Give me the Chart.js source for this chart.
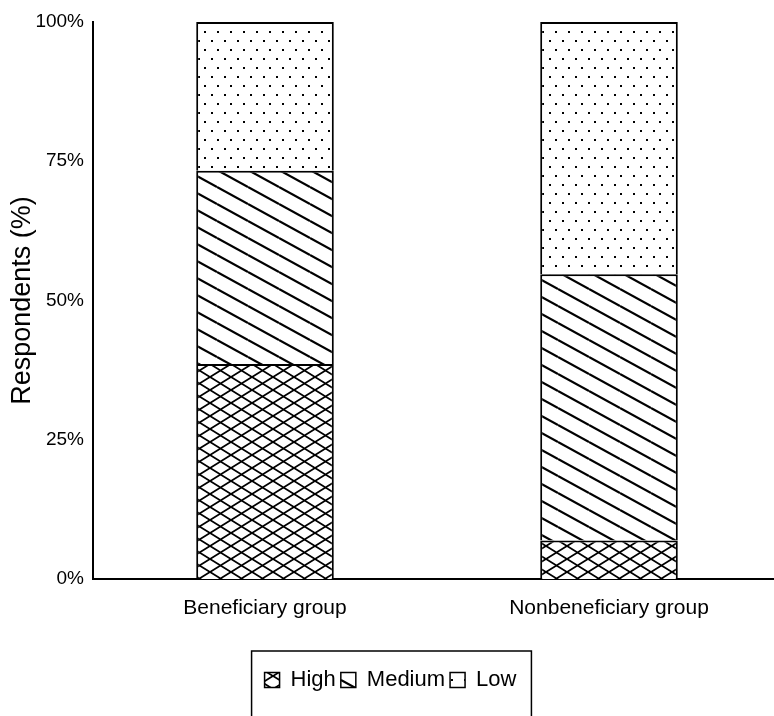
<!DOCTYPE html>
<html>
<head>
<meta charset="utf-8">
<script src="https://cdn.jsdelivr.net/npm/chart.js@4"></script>
<style>
  html, body { margin: 0; padding: 0; background: #fff; overflow: hidden; }
  #wrap { position: relative; width: 784px; height: 716px; }
</style>
</head>
<body>
<div id="wrap"><canvas id="chart" width="784" height="716"></canvas></div>
<script>
const groups = ["Beneficiary group", "Nonbeneficiary group"];
const seriesNames = ["High", "Medium", "Low"];
const highValues = [38.6, 6.9];
const mediumValues = [34.7, 47.8];
const lowValues = [26.7, 45.3];
const yTicks = [0, 25, 50, 75, 100];

const FONT = "'Liberation Sans', Arial, sans-serif";

// ===== Hatch patterns =====
function makeTile(w, h, draw) {
  const c = document.createElement("canvas");
  c.width = w;
  c.height = h;
  const g = c.getContext("2d");
  g.fillStyle = "#fff";
  g.fillRect(0, 0, w, h);
  g.strokeStyle = "#000";
  g.fillStyle = "#000";
  draw(g, w, h);
  return document.createElement("canvas").getContext("2d").createPattern(c, "repeat");
}

function crossHatch() {
  return makeTile(21, 13, (g, w, h) => {
    g.lineWidth = 1.8;
    for (let k = -1; k <= 1; k++) {
      g.beginPath();
      g.moveTo(0, k * h);
      g.lineTo(w, k * h + h);
      g.moveTo(0, k * h + h);
      g.lineTo(w, k * h);
      g.stroke();
    }
  });
}

function diagHatch() {
  return makeTile(31, 17, (g, w, h) => {
    g.lineWidth = 2.2;
    for (let k = -1; k <= 1; k++) {
      g.beginPath();
      g.moveTo(0, k * h);
      g.lineTo(w, k * h + h);
      g.stroke();
    }
  });
}

function dotHatch() {
  return makeTile(26, 18, (g) => {
    [[3, 4], [16, 4], [9, 13], [22, 13]].forEach(([x, y]) => g.fillRect(x, y, 2, 2));
  });
}

const patterns = [crossHatch(), diagHatch(), dotHatch()];
const values = [highValues, mediumValues, lowValues];

// frame around the legend, open at the bottom edge
const legendFrame = {
  id: "legendFrame",
  afterDraw(chart) {
    const boxes = chart.legend.legendHitBoxes;
    if (!boxes || !boxes.length) return;
    const left = Math.min(...boxes.map(b => b.left)) - 13;
    const right = Math.max(...boxes.map(b => b.left + b.width)) + 15;
    const top = boxes[0].top - 18;
    const ctx = chart.ctx;
    ctx.save();
    ctx.strokeStyle = "#000";
    ctx.lineWidth = 1.5;
    ctx.strokeRect(left, top, right - left, chart.height + 10 - top);
    ctx.restore();
  }
};

new Chart(document.getElementById("chart"), {
  type: "bar",
  data: {
    labels: groups,
    datasets: seriesNames.map((name, i) => ({
      label: name,
      data: values[i],
      backgroundColor: patterns[i],
      borderColor: "#000",
      borderWidth: { top: 2, left: 2, right: 2, bottom: 0 },
      borderSkipped: false,
      categoryPercentage: 0.8,
      barPercentage: 0.5
    }))
  },
  options: {
    responsive: false,
    animation: false,
    layout: { padding: { top: 22, right: 3, bottom: 15, left: 0 } },
    plugins: {
      tooltip: { enabled: false },
      legend: {
        position: "bottom",
        labels: {
          font: { family: FONT, size: 22 },
          color: "#000",
          boxWidth: 15,
          boxHeight: 15,
          padding: 5
        }
      }
    },
    scales: {
      x: {
        stacked: true,
        grid: { display: false, drawTicks: false },
        border: { display: true, color: "#000", width: 2 },
        ticks: { color: "#000", font: { family: FONT, size: 21 }, padding: 17 },
        afterFit: (scale) => { scale.height = 85; }
      },
      y: {
        stacked: true,
        min: 0,
        max: 100,
        afterBuildTicks: (scale) => { scale.ticks = yTicks.map(v => ({ value: v })); },
        grid: { display: false, drawTicks: false },
        border: { display: true, color: "#000", width: 2 },
        ticks: {
          color: "#000",
          font: { family: FONT, size: 19 },
          padding: 9,
          callback: (v) => v + "%"
        },
        title: {
          display: true,
          text: "Respondents (%)",
          color: "#000",
          font: { family: FONT, size: 27 },
          padding: { top: 6, bottom: 0 }
        },
        afterFit: (scale) => { scale.width = 93; }
      }
    }
  },
  plugins: [legendFrame]
});
</script>
</body>
</html>
